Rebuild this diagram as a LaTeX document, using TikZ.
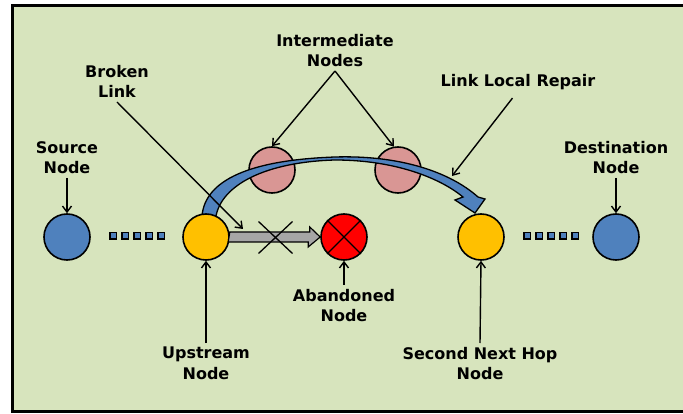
\documentclass[tikz,border=0pt]{standalone}
\usepackage{fontspec}
\setmainfont{DejaVu Sans}
\usetikzlibrary{arrows.meta}
\definecolor{bgc}{HTML}{D7E4BD}
\definecolor{nodeblue}{HTML}{4F81BD}
\definecolor{nodeyellow}{HTML}{FFC000}
\definecolor{nodepink}{HTML}{D99694}
\definecolor{linkgray}{HTML}{A6A6A6}
\newcommand{\nodesize}{46pt}
\newcommand{\hopgap}{12}

\begin{document}
\begin{tikzpicture}[x=1pt, y=-1pt,
        peer/.style={draw, circle, line width=1.6pt, minimum size=\nodesize, inner sep=0pt},
        lbl/.style={font=\bfseries\fontsize{16}{20.5}\selectfont, align=center, inner sep=4pt, text depth=0pt},
        arr/.style={line width=1.4pt, -{Straight Barb[length=6pt,width=9pt]}},
        sq/.style={draw, fill=nodeblue, line width=1.5pt, minimum size=6.5pt, inner sep=0pt}]
        \useasboundingbox (0,0) rectangle (683,414);
        \clip (0,0) rectangle (683,414);

        %frame
        \draw[line width=3pt, fill=bgc] (12.5,5.5) rectangle (700,411.5);

        %intermediate nodes
        \node[peer, fill=nodepink, name=mid1] at (272,170) {};
        \node[peer, fill=nodepink, name=mid2] at (398,170) {};

        %local repair route
        \draw[fill=nodeblue, line width=1.3pt]
              (202,216) .. controls (205,180) and (250,160) .. (335,157)
                        .. controls (400,155) and (450,172) .. (478,197)
              -- (485,199) -- (475,213) -- (455,200) -- (463,197)
                        .. controls (440,178) and (395,160) .. (335,160)
                        .. controls (265,162) and (222,185) .. (216,216) -- cycle;
        \coordinate (rep) at (452,176);

        %route nodes
        \node[peer, fill=nodeblue  , name=src ] at ( 67,237) {};
        \node[peer, fill=nodeyellow, name=up  ] at (206,237) {};
        \node[peer, fill=red       , name=lost] at (344,237) {};
        \node[peer, fill=nodeyellow, name=hop2] at (481,237) {};
        \node[peer, fill=nodeblue  , name=dst ] at (616,237) {};

        %hops
        \foreach \i in {0,...,4} {
            \node[sq, name=hl\i] at (113+\hopgap*\i,236) {};
            \node[sq, name=hr\i] at (527+\hopgap*\i,236) {};
        }

        %broken link
        \draw[line width=1.2pt, fill=linkgray]
              (up.east) ++(0,-5) -- ++(80,0) -- ++(0,-5) -- (lost.west) -- ++(-12,10) -- ++(0,-5) -- ++(-80,0) -- cycle;
        \coordinate (cut) at (275.5,237.5);
        \draw[line width=1.3pt] (cut) ++(-17,-16) -- ++(34,32) (cut) ++(17,-16) -- ++(-34,32);
        \draw[line width=1.4pt] (lost.north west) -- (lost.south east) (lost.north east) -- (lost.south west);
        \coordinate (brk) at (243,229);

        %labels
        \node[lbl, anchor=south, name=lsrc   ] at ( 67,178) {Source\\Node};
        \node[lbl, anchor=south, name=ldst   ] at (616,178) {Destination\\Node};
        \node[lbl, anchor=south, name=lmid   ] at (335, 71) {Intermediate\\Nodes};
        \node[lbl, anchor=south, name=lbroken] at (117,102) {Broken\\Link};
        \node[lbl, anchor=south, name=lrepair] at (518, 91) {Link Local Repair};
        \node[lbl, anchor=north, name=llost  ] at (344,285) {Abandoned\\Node};
        \node[lbl, anchor=north, name=lup    ] at (206,343) {Upstream\\Node};
        \node[lbl, anchor=north, name=lhop   ] at (480,343) {Second Next Hop\\Node};

        %pointers
        \draw[arr] (lsrc.south) -- (src.north);
        \draw[arr] (ldst.south) -- (dst.north);
        \draw[arr] (lmid.south) -- (mid1.north);
        \draw[arr] (lmid.south) -- (mid2.100);
        \draw[arr] (lbroken.south) -- (brk);
        \draw[arr, shorten <=9pt] (lrepair.south) -- (rep);
        \draw[arr] (llost.north) -- (lost.south);
        \draw[arr] (lup.north) -- (up.south);
        \draw[arr] (lhop.north) -- (hop2.south);
    \end{tikzpicture}
\end{document}
